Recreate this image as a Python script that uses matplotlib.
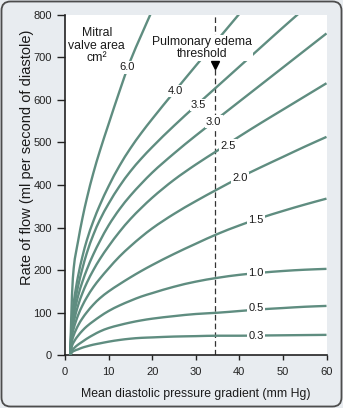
import matplotlib
matplotlib.use('Agg')
import matplotlib.pyplot as plt
import numpy as np
from matplotlib.patches import FancyBboxPatch, PathPatch
from matplotlib.path import Path
from matplotlib.transforms import IdentityTransform

plt.rcParams['font.family'] = ['Liberation Sans', 'DejaVu Sans']

# Mean diastolic gradient (mm Hg) at which flows were read
GRADIENT = [1.2, 1.6, 2, 3, 4, 5, 6.5, 8, 10, 12.5, 15, 17.5, 20, 25, 30, 35, 40, 45, 50, 55, 60]

# Flow (ml per second of diastole) for each mitral valve area (cm2)
FLOW_03 = [0, 7, 10, 14, 18, 21, 25, 28, 32, 36, 39, 41, 42, 44, 45, 46, 46, 46.5, 47, 47.5, 48]
FLOW_05 = [0, 11, 16, 25, 32, 39, 48, 56, 64, 71, 77, 82, 86, 92, 97, 100, 104, 108, 111, 114, 116]
FLOW_10 = [0, 22, 31, 46, 58, 68, 80, 91, 104, 117, 128, 138, 146, 161, 173, 182, 189, 194, 198, 201, 203]
FLOW_15 = [0, 33, 47, 70, 87, 101, 119, 134, 150, 167, 183, 198, 212, 238, 262, 285, 305, 323, 339, 354, 368]
FLOW_20 = [0, 45, 63, 94, 117, 136, 160, 180, 204, 232, 256, 278, 298, 332, 362, 390, 417, 442, 466, 490, 513]
FLOW_25 = [0, 56, 78, 117, 146, 170, 200, 226, 256, 290, 320, 346, 370, 412, 448, 481, 514, 546, 577, 608, 639]
FLOW_30 = [0, 66, 93, 139, 173, 201, 237, 268, 305, 343, 375, 403, 429, 474, 516, 556, 596, 636, 676, 716, 756]
FLOW_35 = [0, 76, 108, 162, 204, 240, 283, 318, 356, 397, 432, 462, 489, 539, 586, 632, 678, 724, 770, 815]
FLOW_40 = [0, 88, 124, 186, 232, 270, 315, 353, 397, 445, 486, 522, 555, 618, 680, 741, 802]
FLOW_60 = [0, 140, 205, 268, 322, 368, 428, 480, 543, 620, 692, 752, 810]

AREA_LABELS = ['0.3', '0.5', '1.0', '1.5', '2.0', '2.5', '3.0', '3.5', '4.0', '6.0']
FLOWS = [FLOW_03, FLOW_05, FLOW_10, FLOW_15, FLOW_20, FLOW_25, FLOW_30, FLOW_35, FLOW_40, FLOW_60]
# where each area label sits on its curve
LABEL_X = [43.8, 43.8, 43.8, 43.8, 40.1, 37.4, 34.1, 30.65, 25.4, 14.2]
LABEL_Y = [45, 110, 193, 318, 416, 492, 549, 588, 621, 676]

THRESHOLD = 34.5

CURVE = '#5f8d80'
BG = '#e8ecf0'
INK = '#1a1a1a'


def smooth_path(x, y):
    """Monotone cubic (Fritsch-Carlson) through the points, as Bezier segments."""
    x = np.asarray(x, float)
    y = np.asarray(y, float)
    h = np.diff(x)
    d = np.diff(y) / h
    m = np.zeros_like(y)
    m[0], m[-1] = d[0], d[-1]
    for i in range(1, len(x) - 1):
        if d[i - 1] * d[i] > 0:
            w1 = 2 * h[i] + h[i - 1]
            w2 = h[i] + 2 * h[i - 1]
            m[i] = (w1 + w2) / (w1 / d[i - 1] + w2 / d[i])
    verts = [(x[0], y[0])]
    codes = [Path.MOVETO]
    for i in range(len(h)):
        verts += [(x[i] + h[i] / 3, y[i] + m[i] * h[i] / 3),
                  (x[i + 1] - h[i] / 3, y[i + 1] - m[i + 1] * h[i] / 3),
                  (x[i + 1], y[i + 1])]
        codes += [Path.CURVE4] * 3
    return Path(verts, codes)


fig = plt.figure(figsize=(3.43, 4.08), dpi=100)
fig.patch.set_facecolor(BG)
fig.add_artist(FancyBboxPatch((1.5, 1.5), 340, 405, boxstyle='round,pad=0,rounding_size=9',
                              transform=IdentityTransform(), fc='none', ec='#4d4d4d', lw=1.3))

ax = fig.add_axes([65 / 343, 52.7 / 408, 261.5 / 343, 340.6 / 408])
ax.set_facecolor('white')

for lab, flow, lx, ly in zip(AREA_LABELS, FLOWS, LABEL_X, LABEL_Y):
    ax.add_patch(PathPatch(smooth_path(GRADIENT[:len(flow)], flow), fc='none', ec=CURVE,
                           lw=1.7, zorder=3))
    ax.text(lx, ly, lab, ha='center', va='center', fontsize=8, color=INK, zorder=5,
            bbox=dict(boxstyle='square,pad=0.12', fc='white', ec='none'))

# pulmonary edema threshold
ax.plot([THRESHOLD, THRESHOLD], [0, 800], color='#333333', lw=0.9, dashes=(4.5, 2.5), zorder=2)
ax.plot(THRESHOLD, 683, marker='v', ms=6, color='black', zorder=6)
ax.text(31.4, 722, 'Pulmonary edema\nthreshold', ha='center', va='center', fontsize=8.8,
        linespacing=1.0, color=INK, zorder=5,
        bbox=dict(boxstyle='square,pad=0.1', fc='white', ec='none'))
ax.text(7.3, 727, 'Mitral\nvalve area\ncm²', ha='center', va='center', fontsize=8.8,
        linespacing=1.05, color=INK, zorder=5)

ax.set_xlim(0, 60)
ax.set_ylim(0, 800)
ax.set_xticks(range(0, 61, 10))
ax.set_yticks(range(0, 801, 100))
for side in ('top', 'right'):
    ax.spines[side].set_visible(False)
for side in ('left', 'bottom'):
    ax.spines[side].set_linewidth(1.2)
    ax.spines[side].set_color('#222222')
ax.tick_params(axis='x', length=3.8, width=1.0, pad=4.6, labelsize=8, colors='#222222')
ax.tick_params(axis='y', length=5.5, width=1.0, pad=4, labelsize=8, colors='#222222')

fig.text(196 / 343, (408 - 394.3) / 408, 'Mean diastolic pressure gradient (mm Hg)',
         ha='center', va='center', fontsize=8.8, color=INK)
fig.text(27 / 343, (408 - 157) / 408, 'Rate of flow (ml per second of diastole)',
         ha='center', va='center', rotation=90, fontsize=10.5, color=INK)

fig.savefig('out.png', dpi=100, facecolor=BG)
